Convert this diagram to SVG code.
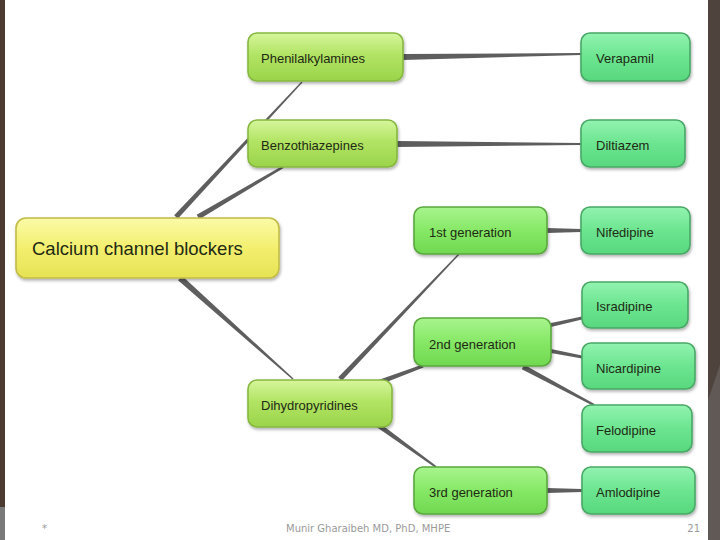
<svg xmlns="http://www.w3.org/2000/svg" width="720" height="540" viewBox="0 0 720 540">
<style>
.conn{fill:#5e5e5e}
.n rect{stroke-width:1.6}
.yg rect{fill:url(#gYG);stroke:#86b840}
.gn rect{fill:url(#gGN);stroke:#5aa83e}
.dr rect{fill:url(#gDR);stroke:#48a866}
.ye rect{fill:url(#gYE);stroke:#c2bc48}
.n text{font-family:"Liberation Sans",Arial,sans-serif;font-size:13px;fill:#1e2a14}
.ye text{font-size:18.5px}
.foot{font-family:"DejaVu Sans","Liberation Sans",sans-serif;font-size:10px;fill:#9a9a9a}
</style>
<defs>
<linearGradient id="gYG" x1="0" y1="0" x2="0" y2="1"><stop offset="0" stop-color="#d6f69c"/><stop offset="0.45" stop-color="#b2e464"/><stop offset="1" stop-color="#9ad44a"/></linearGradient>
<linearGradient id="gGN" x1="0" y1="0" x2="0" y2="1"><stop offset="0" stop-color="#a8f48e"/><stop offset="0.5" stop-color="#86e866"/><stop offset="1" stop-color="#70d850"/></linearGradient>
<linearGradient id="gDR" x1="0" y1="0" x2="0" y2="1"><stop offset="0" stop-color="#92f3b0"/><stop offset="0.5" stop-color="#6ce590"/><stop offset="1" stop-color="#58d87e"/></linearGradient>
<linearGradient id="gYE" x1="0" y1="0" x2="0" y2="1"><stop offset="0" stop-color="#fbfba8"/><stop offset="0.5" stop-color="#f3ef6e"/><stop offset="1" stop-color="#e6e254"/></linearGradient>
<filter id="sh" x="-10%" y="-20%" width="120%" height="150%"><feDropShadow dx="1" dy="2" stdDeviation="1.5" flood-color="#000" flood-opacity="0.3"/></filter>
</defs>
<rect x="0" y="0" width="720" height="540" fill="#ffffff"/>
<rect x="0" y="0" width="5" height="507" fill="#4b3a30"/>
<rect x="0" y="507" width="5" height="33" fill="#7a7a7a"/>
<rect x="708" y="0" width="12" height="540" fill="#4e443d"/>
<polygon points="708,400 720,365 720,540 708,540" fill="#605955"/>

<g id="connectors">
<polygon class="conn" points="177.8,218.7 302.5,82.5 301.5,81.5 174.2,215.3"/>
<polygon class="conn" points="199.3,219.2 283.6,168.1 282.4,165.9 196.7,214.8"/>
<polygon class="conn" points="178,280.2 292.5,379.6 293.5,378.4 182,275.8"/>
<polygon class="conn" points="341.8,380.7 459.5,254.5 458.5,253.5 338.2,377.3"/>
<polygon class="conn" points="380.9,384.3 423.5,367.4 422.5,364.6 379.1,379.7"/>
<polygon class="conn" points="376.5,427 435.4,467.8 436.6,466.2 379.5,423"/>
<polygon class="conn" points="403,54 581,53 581,55 403,60"/>
<polygon class="conn" points="397,141 581,143 581,145 397,147"/>
<polygon class="conn" points="547,228 581,229 581,232 547,233"/>
<polygon class="conn" points="551,323 582,316.5 582,319.5 551,327"/>
<polygon class="conn" points="551,349 582,355.5 582,358.5 551,353"/>
<polygon class="conn" points="521.8,369.2 593.5,405.9 594.5,404.1 524.2,364.8"/>
<polygon class="conn" points="547,488 582,489 582,492 547,493"/>
</g>

<g id="calcium" class="n ye"><rect x="16" y="218" width="263" height="60" rx="10" filter="url(#sh)"/><text x="32" y="255">Calcium channel blockers</text></g>
<g id="phenil" class="n yg"><rect x="248" y="33" width="155" height="48" rx="9" filter="url(#sh)"/><text x="261" y="63">Phenilalkylamines</text></g>
<g id="benzo" class="n yg"><rect x="248" y="120" width="149" height="47" rx="9" filter="url(#sh)"/><text x="261" y="150">Benzothiazepines</text></g>
<g id="dihydro" class="n yg"><rect x="248" y="380" width="144" height="47" rx="9" filter="url(#sh)"/><text x="261" y="410">Dihydropyridines</text></g>
<g id="gen1" class="n gn"><rect x="414" y="207" width="133" height="47" rx="9" filter="url(#sh)"/><text x="429" y="237">1st generation</text></g>
<g id="gen2" class="n gn"><rect x="414" y="318" width="137" height="48" rx="9" filter="url(#sh)"/><text x="429" y="349">2nd generation</text></g>
<g id="gen3" class="n gn"><rect x="414" y="467" width="133" height="47" rx="9" filter="url(#sh)"/><text x="429" y="497">3rd generation</text></g>
<g id="verapamil" class="n dr"><rect x="581" y="33" width="109" height="48" rx="9" filter="url(#sh)"/><text x="596" y="63">Verapamil</text></g>
<g id="diltiazem" class="n dr"><rect x="581" y="120" width="104" height="47" rx="9" filter="url(#sh)"/><text x="596" y="150">Diltiazem</text></g>
<g id="nifedipine" class="n dr"><rect x="581" y="207" width="109" height="47" rx="9" filter="url(#sh)"/><text x="596" y="237">Nifedipine</text></g>
<g id="isradipine" class="n dr"><rect x="582" y="282" width="106" height="46" rx="9" filter="url(#sh)"/><text x="596" y="311">Isradipine</text></g>
<g id="nicardipine" class="n dr"><rect x="582" y="343" width="113" height="46" rx="9" filter="url(#sh)"/><text x="596" y="373">Nicardipine</text></g>
<g id="felodipine" class="n dr"><rect x="582" y="405" width="110" height="47" rx="9" filter="url(#sh)"/><text x="596" y="435">Felodipine</text></g>
<g id="amlodipine" class="n dr"><rect x="582" y="467" width="113" height="47" rx="9" filter="url(#sh)"/><text x="596" y="497">Amlodipine</text></g>

<text class="foot" x="42" y="532">*</text>
<text class="foot" x="286" y="532">Munir Gharaibeh MD, PhD, MHPE</text>
<text class="foot" x="700" y="532" text-anchor="end">21</text>
</svg>
